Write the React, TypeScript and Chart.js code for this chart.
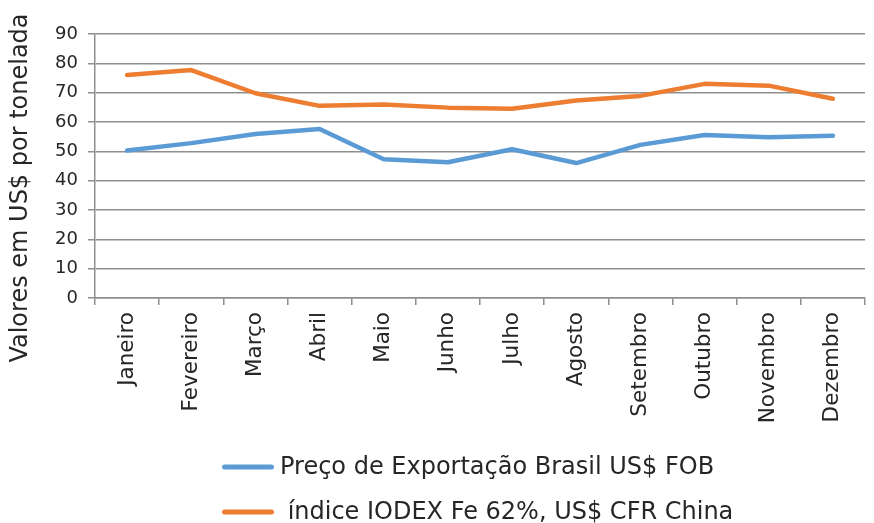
import React, { useEffect, useRef } from "react";
import { Chart, registerables } from "chart.js";

Chart.register(...registerables);

const months = [
  "Janeiro", "Fevereiro", "Março", "Abril", "Maio", "Junho",
  "Julho", "Agosto", "Setembro", "Outubro", "Novembro", "Dezembro",
];
const precoExportacao = [50.3, 52.8, 55.9, 57.6, 47.3, 46.3, 50.7, 46.0, 52.2, 55.6, 54.8, 55.3];
const indiceIodex = [76.0, 77.7, 69.8, 65.5, 66.0, 64.9, 64.5, 67.3, 68.9, 73.0, 72.4, 67.9];
const seriesLabels = ["Preço de Exportação Brasil US$ FOB", " índice IODEX Fe 62%, US$ CFR China"];
const seriesColors = ["#5B9BD5", "#ED7D31"];
const yAxisTitle = "Valores em US$ por tonelada";
const yMin = 0;
const yMax = 90;
const yStep = 10;

const FONT = '"DejaVu Sans", sans-serif';
const TEXT_COLOR = "#262626";
const GRID_COLOR = "#8f8f8f";

const overlayPlugin = {
  id: "overlayText",
  afterDraw(chart: any) {
    const ctx = chart.ctx as CanvasRenderingContext2D;
    const ca = chart.chartArea;
    ctx.save();
    // Y axis title
    ctx.font = `24px ${FONT}`;
    ctx.fillStyle = TEXT_COLOR;
    ctx.textAlign = "center";
    ctx.textBaseline = "middle";
    ctx.translate(21, 188);
    ctx.rotate(-Math.PI / 2);
    ctx.fillText(yAxisTitle, 0, 0);
    ctx.restore();

    // Legend
    ctx.save();
    ctx.font = `24px ${FONT}`;
    const lineW = 52;
    const gap = 6;
    const left = ca.left + 127;
    const rowsY = [ca.bottom + 169, ca.bottom + 214];
    chart.data.datasets.forEach((d: any, i: number) => {
      const y = rowsY[i];
      ctx.strokeStyle = d.borderColor;
      ctx.lineWidth = 5;
      ctx.lineCap = "round";
      ctx.beginPath();
      ctx.moveTo(left + 2.5, y);
      ctx.lineTo(left + lineW - 2.5, y);
      ctx.stroke();
      ctx.fillStyle = TEXT_COLOR;
      ctx.textAlign = "left";
      ctx.textBaseline = "middle";
      ctx.fillText(d.label, left + lineW + gap, y + 1);
    });
    ctx.restore();
  },
};

export default function App() {
  const canvasRef = useRef<HTMLCanvasElement | null>(null);

  useEffect(() => {
    document.body.style.margin = "0";
    const canvas = canvasRef.current;
    if (!canvas) return;
    const chart = new Chart(canvas, {
      type: "line",
      data: {
        labels: months,
        datasets: [
          {
            label: seriesLabels[0],
            data: precoExportacao,
            borderColor: seriesColors[0],
            backgroundColor: seriesColors[0],
            borderWidth: 4.5,
            pointRadius: 0,
            pointHoverRadius: 0,
            tension: 0,
            borderCapStyle: "round",
            borderJoinStyle: "round",
          },
          {
            label: seriesLabels[1],
            data: indiceIodex,
            borderColor: seriesColors[1],
            backgroundColor: seriesColors[1],
            borderWidth: 4.5,
            pointRadius: 0,
            pointHoverRadius: 0,
            tension: 0,
            borderCapStyle: "round",
            borderJoinStyle: "round",
          },
        ],
      },
      options: {
        animation: false,
        responsive: false,
        maintainAspectRatio: false,
        devicePixelRatio: 1,
        layout: { padding: { top: 34, right: 9, bottom: 93, left: 0 } },
        plugins: {
          legend: { display: false },
          tooltip: { enabled: false },
          title: { display: false },
        },
        scales: {
          x: {
            type: "category",
            offset: true,
            grid: {
              display: true,
              offset: true,
              drawOnChartArea: false,
              drawTicks: true,
              tickLength: 7,
              color: GRID_COLOR,
              lineWidth: 1.5,
            },
            border: { display: true, color: GRID_COLOR, width: 1.5 },
            ticks: {
              autoSkip: false,
              minRotation: 90,
              maxRotation: 90,
              padding: 7,
              color: TEXT_COLOR,
              font: { family: FONT, size: 21.5 },
            },
            afterFit(scale: any) {
              scale.height = 132;
            },
          },
          y: {
            min: yMin,
            max: yMax,
            grid: {
              color: GRID_COLOR,
              lineWidth: 1.5,
              drawTicks: true,
              tickLength: 7,
            },
            border: { display: true, color: GRID_COLOR, width: 1.5 },
            ticks: {
              stepSize: yStep,
              padding: 10,
              color: TEXT_COLOR,
              font: { family: FONT, size: 18 },
            },
            afterFit(scale: any) {
              scale.width = 95;
            },
          },
        },
      },
      plugins: [overlayPlugin],
    });
    return () => chart.destroy();
  }, []);

  return (
    <div style={{ position: "absolute", left: 0, top: 0, width: 874, height: 523, background: "#fff" }}>
      <canvas ref={canvasRef} width={874} height={523} style={{ width: 874, height: 523, display: "block" }} />
    </div>
  );
}
